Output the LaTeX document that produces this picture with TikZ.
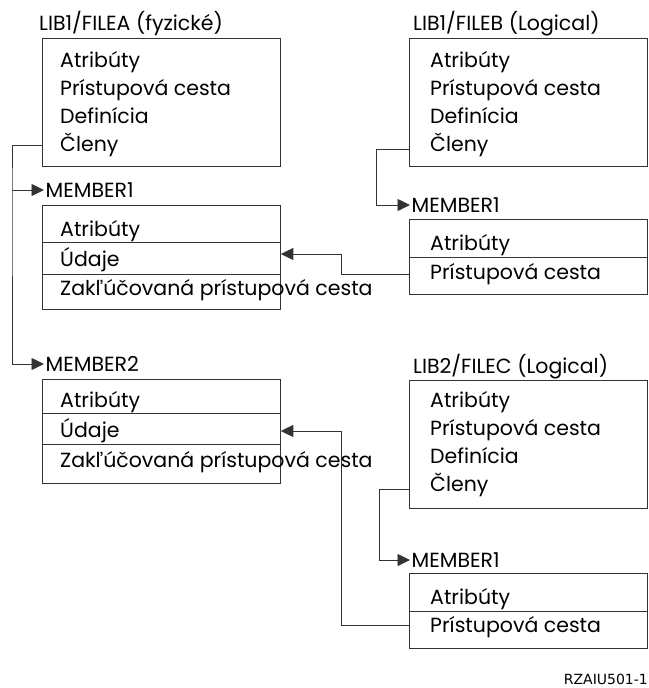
\documentclass[tikz,border=0pt]{standalone}
\usepackage{fontspec}
\setmainfont{Poppins}
\newfontfamily\tagfont{DejaVu Sans}
\usetikzlibrary{positioning,arrows.meta}

\begin{document}
\begin{tikzpicture}
[x=1pt,y=-1pt,font=\fontsize{20.5}{24}\selectfont]
\tikzstyle{box}=[draw=black!80,line width=0.8pt,inner sep=0pt,anchor=north west,minimum width=238pt]
\tikzstyle{row}=[inner sep=0pt,anchor=base west]
\tikzstyle{lbl}=[inner sep=1.5pt,anchor=west]
\tikzstyle{link}=[draw=black!80,line width=0.8pt]
\tikzstyle{linkarr}=[link,-{Triangle[length=12.5pt,width=12pt]}]

\useasboundingbox (0,0) rectangle (648,688);

% files
\draw node [box,minimum height=128pt] (filea) at (42,38) {};
\draw node [row] (filealbl) at (39,30) {LIB1/FILEA (fyzické)};
\draw node [row] at (60,67) {Atribúty};
\draw node [row] at (60,95) {Prístupová cesta};
\draw node [row] at (60,123) {Definícia};
\draw node [row] at (60,151) {Členy};

\draw node [box,minimum height=128pt] (fileb) at (409,38) {};
\draw node [row] (fileblbl) at (413,30) {LIB1/FILEB (Logical)};
\draw node [row] at (430,67) {Atribúty};
\draw node [row] at (430,95) {Prístupová cesta};
\draw node [row] at (430,123) {Definícia};
\draw node [row] at (430,151) {Členy};

\draw node [box,minimum height=128pt] (filec) at (409,380) {};
\draw node [row] (fileclbl) at (413,373) {LIB2/FILEC (Logical)};
\draw node [row] at (430,407) {Atribúty};
\draw node [row] at (430,435) {Prístupová cesta};
\draw node [row] at (430,463) {Definícia};
\draw node [row] at (430,491) {Členy};

% members
\draw node [lbl] (mem1a) at (44,190) {MEMBER1};
\draw node [box,minimum height=104pt] (m1a) at (42,205) {};
\draw[link] (m1a.west |- 0,242) -- (m1a.east |- 0,242);
\draw[link] (m1a.west |- 0,274) -- (m1a.east |- 0,274);
\draw node [row] at (60,236) {Atribúty};
\draw node [row] at (60,266) {Údaje};
\draw node [row] at (60,295) {Zakľúčovaná prístupová cesta};

\draw node [lbl] (mem2a) at (44,364) {MEMBER2};
\draw node [box,minimum height=104pt] (m2a) at (42,379) {};
\draw[link] (m2a.west |- 0,413) -- (m2a.east |- 0,413);
\draw[link] (m2a.west |- 0,444) -- (m2a.east |- 0,444);
\draw node [row] at (60,407) {Atribúty};
\draw node [row] at (60,437) {Údaje};
\draw node [row] at (60,467) {Zakľúčovaná prístupová cesta};

\draw node [lbl] (mem1b) at (410,205) {MEMBER1};
\draw node [box,minimum height=75pt] (m1b) at (409,219) {};
\draw[link] (m1b.west |- 0,257) -- (m1b.east |- 0,257);
\draw node [row] at (430,250) {Atribúty};
\draw node [row] at (430,279) {Prístupová cesta};

\draw node [lbl] (mem1c) at (410,560) {MEMBER1};
\draw node [box,minimum height=75pt] (m1c) at (409,573) {};
\draw[link] (m1c.west |- 0,611) -- (m1c.east |- 0,611);
\draw node [row] at (430,604) {Atribúty};
\draw node [row] at (430,632) {Prístupová cesta};

% links
\coordinate (trunka) at (12,190);
\draw[linkarr] (filea.west |- 0,145) -| (trunka) |- (mem2a.west);
\draw[linkarr] (trunka) -- (mem1a.west);
\draw[linkarr] (fileb.west |- 0,149) -| (376,205) -- (mem1b.west);
\draw[linkarr] (filec.west |- 0,489) -| (379,560) -- (mem1c.west);
\draw[linkarr] (m1b.west |- 0,274) -| (341,254) -- (m1a.east |- 0,254);
\draw[linkarr] (m1c.west |- 0,625) -| (341,431) -- (m2a.east |- 0,431);

\draw node [row,anchor=base east,font=\tagfont\fontsize{14}{16}\selectfont] (tag) at (648,684) {RZAIU501-1};
\end{tikzpicture}
\end{document}
